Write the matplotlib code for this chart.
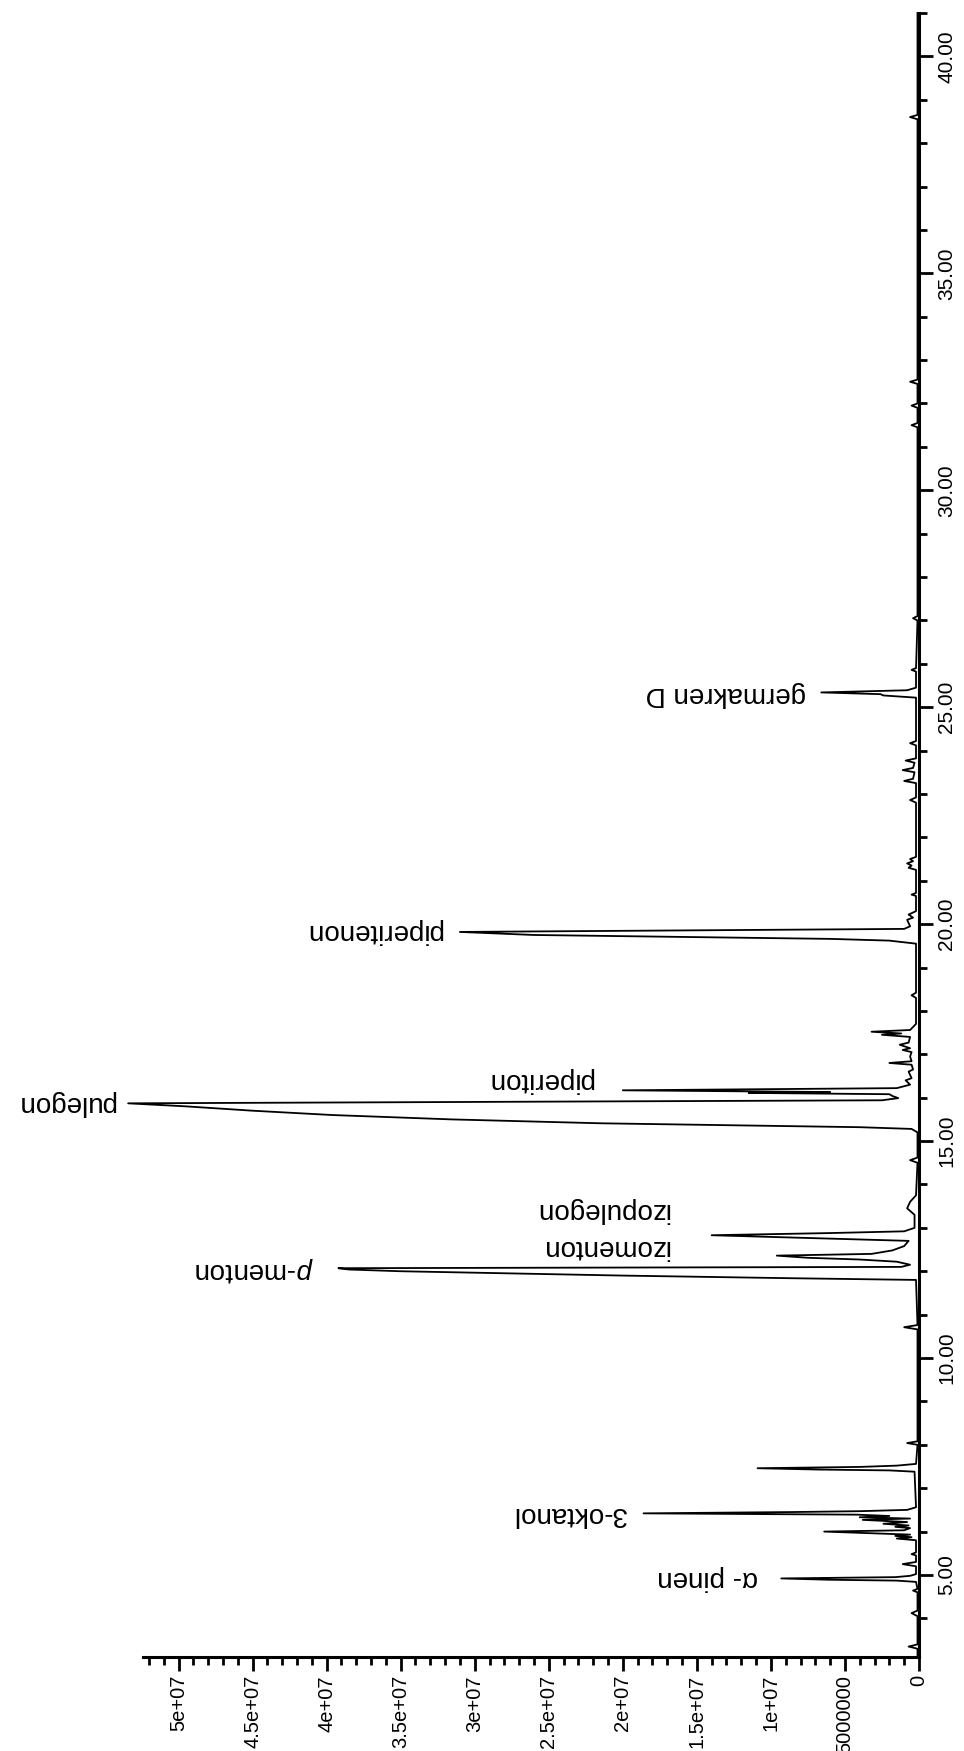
import matplotlib
matplotlib.use('Agg')
import matplotlib.pyplot as plt
import numpy as np

plt.rcParams['font.family'] = ['Liberation Sans', 'DejaVu Sans']
plt.rcParams['mathtext.fontset'] = 'custom'
plt.rcParams['mathtext.it'] = 'Liberation Sans:italic'
plt.rcParams['mathtext.rm'] = 'Liberation Sans'

# retention time (min) and abundance (millions of counts)
rt = [3.11, 3.30, 3.35, 3.40, 4.05, 4.12, 4.18, 4.60, 4.64, 4.68,
      4.84, 4.87, 4.89, 4.92, 4.95, 4.98, 5.02, 5.20, 5.25, 5.30,
      5.45, 5.48, 5.52, 5.80, 5.84, 5.87, 5.90, 5.93, 5.97, 6.00,
      6.03, 6.08, 6.11, 6.14, 6.18, 6.22, 6.27, 6.30, 6.33, 6.36,
      6.39, 6.42, 6.45, 6.47, 6.50, 6.56, 7.38, 7.41, 7.43, 7.46,
      7.49, 7.52, 7.56, 8.00, 8.04, 8.08, 10.66, 10.71, 10.76, 11.80,
      11.84, 11.90, 11.96, 12.00, 12.04, 12.07, 12.10, 12.15, 12.22, 12.27,
      12.31, 12.36, 12.40, 12.48, 12.58, 12.70, 12.76, 12.83, 12.88, 12.92,
      13.00, 13.30, 13.45, 13.60, 13.75, 14.50, 14.56, 14.62, 15.20, 15.28,
      15.32, 15.41, 15.50, 15.60, 15.70, 15.80, 15.87, 15.94, 15.99, 16.04,
      16.08, 16.11, 16.13, 16.17, 16.22, 16.30, 16.40, 16.45, 16.60, 16.65,
      16.76, 16.80, 16.84, 16.95, 17.05, 17.10, 17.14, 17.22, 17.27, 17.40,
      17.45, 17.48, 17.52, 17.56, 17.63, 17.70, 18.30, 18.36, 18.42, 19.55,
      19.62, 19.66, 19.75, 19.82, 19.89, 19.95, 20.10, 20.15, 20.22, 20.30,
      20.65, 20.68, 20.72, 21.25, 21.30, 21.35, 21.40, 21.45, 21.50, 21.55,
      22.80, 22.86, 22.92, 23.25, 23.30, 23.35, 23.50, 23.55, 23.60, 23.72,
      23.77, 23.82, 24.12, 24.17, 24.22, 25.22, 25.27, 25.30, 25.34, 25.39,
      25.45, 25.82, 25.86, 25.90, 27.00, 27.05, 27.10, 31.45, 31.50, 31.55,
      31.90, 31.95, 32.00, 32.45, 32.50, 32.55, 38.55, 38.60, 38.65, 41.00]
abund_m = [0.1, 0.1, 0.7, 0.1, 0.1, 0.5, 0.1, 0.1, 0.4, 0.1,
           0.2, 1.5, 6.1, 9.3, 1.6, 0.6, 0.2, 0.2, 1.1, 0.2,
           0.2, 0.5, 0.2, 0.2, 1.5, 0.5, 1.6, 0.6, 4.0, 6.4,
           1.0, 0.6, 1.6, 0.7, 2.4, 0.8, 3.8, 0.6, 4.0, 2.0,
           4.2, 18.6, 8.6, 4.0, 0.8, 0.2, 0.3, 2.0, 6.9, 10.9,
           4.0, 1.5, 0.2, 0.1, 0.8, 0.1, 0.1, 1.0, 0.1, 0.2,
           8.8, 20.0, 29.0, 35.0, 38.5, 39.2, 1.2, 0.6, 1.5, 4.0,
           7.5, 9.6, 3.2, 1.8, 1.0, 0.7, 6.9, 14.0, 6.0, 1.0,
           0.3, 0.3, 0.8, 0.6, 0.2, 0.1, 0.6, 0.1, 0.1, 0.5,
           4.0, 21.5, 31.6, 39.6, 45.0, 49.5, 53.4, 2.5, 1.4, 1.8,
           2.0, 11.5, 6.0, 20.0, 1.5, 0.6, 0.9, 0.5, 0.7, 0.4,
           0.5, 2.0, 0.5, 0.6, 0.5, 1.1, 0.6, 1.3, 0.7, 0.6,
           2.5, 1.2, 3.2, 0.6, 0.4, 0.2, 0.2, 0.5, 0.2, 0.2,
           2.0, 6.0, 26.0, 31.0, 1.0, 0.6, 0.8, 0.4, 0.7, 0.2,
           0.2, 0.5, 0.2, 0.2, 0.7, 0.5, 0.8, 0.4, 0.6, 0.2,
           0.2, 0.6, 0.2, 0.2, 1.0, 0.4, 0.3, 1.1, 0.4, 0.3,
           0.9, 0.2, 0.2, 0.6, 0.2, 0.2, 2.4, 2.6, 6.6, 0.8,
           0.2, 0.2, 0.5, 0.2, 0.1, 0.4, 0.1, 0.1, 0.5, 0.1,
           0.1, 0.5, 0.1, 0.1, 0.6, 0.1, 0.1, 0.6, 0.1, 0.1]

peak_names = ['α- pinen', '3-oktanol', r'$\it{p}$-menton', 'izomenton', 'izopulegon',
              'pulegon', 'piperiton', 'piperitenon', 'germakren D']
peak_label_rt = [4.92, 6.40, 12.05, 12.55, 13.40, 15.88, 16.40, 19.84, 25.30]
peak_label_ab = [10.9, 19.8, 40.9, 16.9, 16.9, 54.3, 22.0, 32.2, 7.6]

time_ticks = [5, 10, 15, 20, 25, 30, 35, 40]
time_labels = ['5.00', '10.00', '15.00', '20.00', '25.00', '30.00', '35.00', '40.00']
ab_ticks = [0, 5e6, 1e7, 1.5e7, 2e7, 2.5e7, 3e7, 3.5e7, 4e7, 4.5e7, 5e7]
ab_labels = ['0', '5000000', '1e+07', '1.5e+07', '2e+07', '2.5e+07', '3e+07',
             '3.5e+07', '4e+07', '4.5e+07', '5e+07']

abund = np.array(abund_m) * 1e6

fig = plt.figure(figsize=(9.64, 17.51), dpi=100)
ax = fig.add_axes([0.1483, 0.0537, 0.805, 0.9389])

# the chromatogram is drawn turned: time runs up, abundance runs left
ax.plot(abund, rt, color='black', lw=1.3, clip_on=False)

ax.set_xlim(52.4e6, 0)
ax.set_ylim(3.11, 41.0)

for s in ['left', 'top']:
    ax.spines[s].set_visible(False)
for s in ['right', 'bottom']:
    ax.spines[s].set_linewidth(2.2)

ax.yaxis.tick_right()
ax.set_yticks(time_ticks)
ax.set_yticks(np.arange(4, 42, 1), minor=True)
ax.set_yticklabels(time_labels, rotation=90, va='center', ha='left', fontsize=15)

ax.set_xticks(ab_ticks)
ax.set_xticks(np.arange(0, 53e6, 1e6), minor=True)
ax.set_xticklabels(ab_labels, rotation=90, va='top', ha='center', fontsize=14.5)

ax.tick_params(which='major', length=10, width=2, direction='out', pad=3)
ax.tick_params(which='minor', length=6, width=2, direction='out')

for name, t, a in zip(peak_names, peak_label_rt, peak_label_ab):
    ax.text(a * 1e6, t, name, rotation=180, ha='right', va='center', fontsize=20)

fig.savefig('out.png', dpi=100)
